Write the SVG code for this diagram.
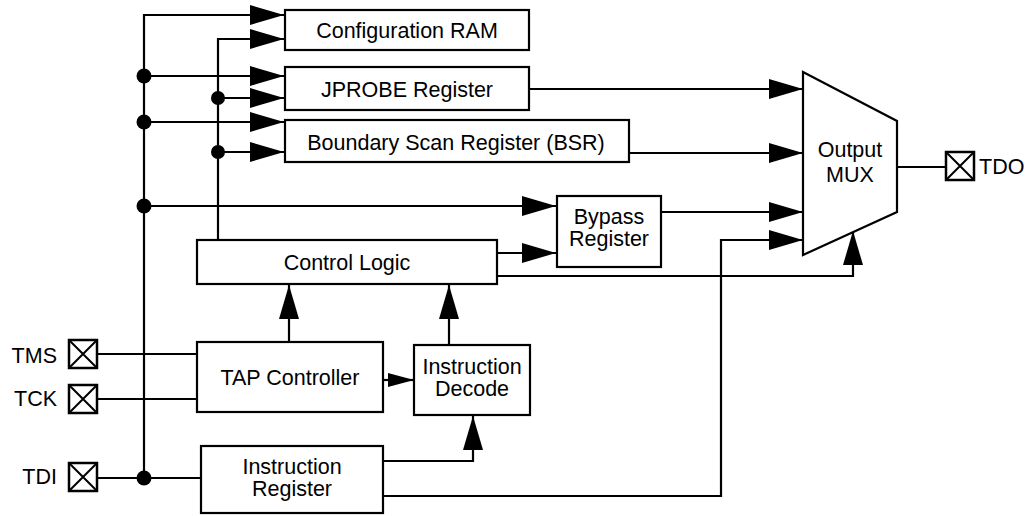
<svg xmlns="http://www.w3.org/2000/svg" width="1030" height="516" viewBox="0 0 1030 516">
<defs>
<style>
.box{fill:#fff;stroke:#000;stroke-width:2.2}
.w{fill:none;stroke:#000;stroke-width:2.2}
.t{font-family:"Liberation Sans",Arial,sans-serif;font-size:21.5px;fill:#000;text-anchor:middle}
.pl{font-family:"Liberation Sans",Arial,sans-serif;font-size:21.5px;fill:#000;text-anchor:end}
.dot{fill:#000}
</style>
<marker id="ah" markerUnits="userSpaceOnUse" markerWidth="34" markerHeight="20" refX="34" refY="10" orient="auto"><path d="M0,0 L34,10 L0,20 z" fill="#000"/></marker>
<marker id="as" markerUnits="userSpaceOnUse" markerWidth="26" markerHeight="14" refX="26" refY="7" orient="auto"><path d="M0,0 L26,7 L0,14 z" fill="#000"/></marker>
<g id="pin"><rect x="0" y="0" width="28" height="28" fill="#fff" stroke="#000" stroke-width="2.5"/><path d="M0,0 L28,28 M28,0 L0,28" stroke="#000" stroke-width="2"/></g>
</defs>

<g id="connectors">
<path class="w" d="M144,478 V15 H284" marker-end="url(#ah)"/>
<path class="w" d="M144,76 H284" marker-end="url(#ah)"/>
<path class="w" d="M144,122 H284" marker-end="url(#ah)"/>
<path class="w" d="M144,206 H556" marker-end="url(#ah)"/>
<path class="w" d="M218,240 V39 H284" marker-end="url(#ah)"/>
<path class="w" d="M218,98 H284" marker-end="url(#ah)"/>
<path class="w" d="M218,152 H284" marker-end="url(#ah)"/>
<path class="w" d="M529,89 H803" marker-end="url(#ah)"/>
<path class="w" d="M629,153 H803" marker-end="url(#ah)"/>
<path class="w" d="M661,212 H803" marker-end="url(#ah)"/>
<path class="w" d="M383,496 H721 V240 H803" marker-end="url(#ah)"/>
<path class="w" d="M497,276 H853 V231" marker-end="url(#ah)"/>
<path class="w" d="M497,253 H556" marker-end="url(#ah)"/>
<path class="w" d="M897,167 H946"/>
<path class="w" d="M97,354 H197"/>
<path class="w" d="M97,399 H197"/>
<path class="w" d="M97,478 H201"/>
<path class="w" d="M289,342 V285" marker-end="url(#ah)"/>
<path class="w" d="M449,345 V285" marker-end="url(#ah)"/>
<path class="w" d="M383,380 H414" marker-end="url(#as)"/>
<path class="w" d="M383,461 H473 V416" marker-end="url(#ah)"/>
<circle class="dot" cx="144" cy="76" r="7.5"/>
<circle class="dot" cx="144" cy="122" r="7.5"/>
<circle class="dot" cx="144" cy="206" r="7.5"/>
<circle class="dot" cx="144" cy="478" r="7.5"/>
<circle class="dot" cx="218" cy="98" r="7"/>
<circle class="dot" cx="218" cy="152" r="7"/>
</g>

<g id="config-ram"><rect class="box" x="285" y="10" width="244" height="40"/><text class="t" x="407" y="38">Configuration RAM</text></g>
<g id="jprobe"><rect class="box" x="285" y="67" width="244" height="43"/><text class="t" x="407" y="97">JPROBE Register</text></g>
<g id="bsr"><rect class="box" x="285" y="120" width="344" height="42"/><text class="t" x="456" y="150">Boundary Scan Register (BSR)</text></g>
<g id="bypass"><rect class="box" x="557" y="196" width="104" height="71"/><text class="t" x="609" y="224">Bypass</text><text class="t" x="609" y="246">Register</text></g>
<g id="control-logic"><rect class="box" x="197" y="240" width="300" height="44"/><text class="t" x="347" y="270">Control Logic</text></g>
<g id="tap"><rect class="box" x="197" y="342" width="186" height="70"/><text class="t" x="290" y="385">TAP Controller</text></g>
<g id="decode"><rect class="box" x="414" y="345" width="116" height="70"/><text class="t" x="472" y="374">Instruction</text><text class="t" x="472" y="396">Decode</text></g>
<g id="ir"><rect class="box" x="201" y="446" width="182" height="67"/><text class="t" x="292" y="474">Instruction</text><text class="t" x="292" y="496">Register</text></g>
<g id="mux"><path class="box" d="M803,72 L897,121 L897,212 L803,255 Z"/><text class="t" x="850" y="157">Output</text><text class="t" x="850" y="182">MUX</text></g>
<g id="tdo"><use href="#pin" x="946" y="152"/><text class="t" x="979" y="174" style="text-anchor:start">TDO</text></g>
<g id="tms"><use href="#pin" x="69" y="340"/><text class="pl" x="57" y="363">TMS</text></g>
<g id="tck"><use href="#pin" x="69" y="385"/><text class="pl" x="57" y="406">TCK</text></g>
<g id="tdi"><use href="#pin" x="69" y="463"/><text class="pl" x="57" y="484">TDI</text></g>
</svg>
